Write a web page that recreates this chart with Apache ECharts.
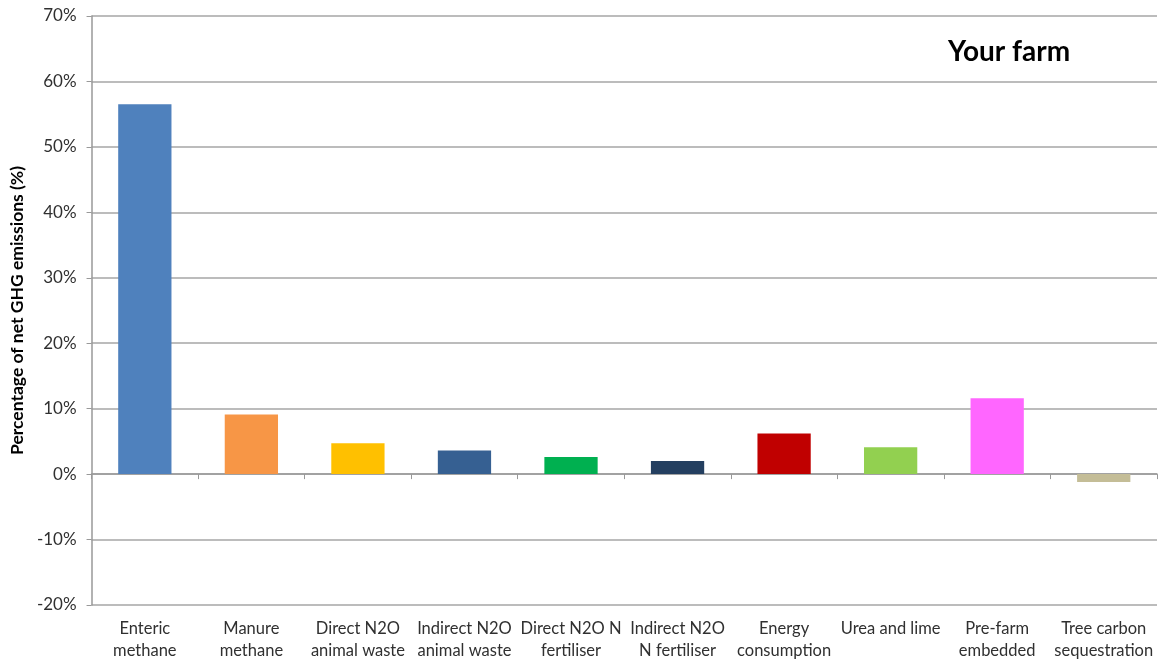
<!DOCTYPE html>
<html><head><meta charset="utf-8">
<script src="https://cdn.jsdelivr.net/npm/echarts@6/dist/echarts.min.js"></script>
<style>html,body{margin:0;padding:0;background:#fff}#c{width:1165px;height:663px}</style>
</head><body><div id="c"></div>
<script>
const categories = ["Enteric\nmethane","Manure\nmethane","Direct N2O\nanimal waste","Indirect N2O\nanimal waste","Direct N2O N\nfertiliser","Indirect N2O\nN fertiliser","Energy\nconsumption","Urea and lime","Pre-farm\nembedded","Tree carbon\nsequestration"];
const values = [56.5, 9.1, 4.7, 3.6, 2.6, 2.0, 6.2, 4.1, 11.6, -1.2];
const colors = ["#4F81BD","#F79646","#FFC000","#366092","#00B050","#243F60","#C00000","#92D050","#FF66FF","#C4BD97"];
const yTicks = {min:-20, max:70, interval:10};
const chart = echarts.init(document.getElementById('c'));
const font = "Lato, 'Open Sans', 'Liberation Sans', sans-serif";
chart.setOption({
  animation:false,
  grid:{left:91, right:8, top:16, bottom:58},
  title:{text:"Your farm", left:1004, top:33, textAlign:'center',
    textStyle:{fontFamily:font, fontSize:28, fontWeight:'bold', color:'#000'}},
  xAxis:{type:'category', data:categories,
    axisLine:{lineStyle:{color:'#999', width:1.5}},
    axisTick:{show:true, alignWithLabel:false, length:5, lineStyle:{color:'#999'}},
    axisLabel:{interval:0, color:'#303030', fontFamily:font, fontSize:16.5, lineHeight:22, margin:13}},
  yAxis:{type:'value', min:yTicks.min, max:yTicks.max, interval:yTicks.interval,
    name:"Percentage of net GHG emissions (%)", nameLocation:'middle', nameGap:64,
    nameTextStyle:{fontFamily:font, fontSize:17.5, fontWeight:'bold', color:'#000'},
    axisLine:{show:true, lineStyle:{color:'#999', width:1.5}},
    axisTick:{show:true, length:5, lineStyle:{color:'#999'}},
    splitLine:{lineStyle:{color:'#a6a6a6', width:1.5}},
    axisLabel:{formatter:'{value}%', color:'#303030', fontFamily:font, fontSize:17, margin:15}},
  series:[{type:'bar', barWidth:'50%',
    data: values.map((v,i)=>({value:v, itemStyle:{color:colors[i]}}))}]
});
</script></body></html>
